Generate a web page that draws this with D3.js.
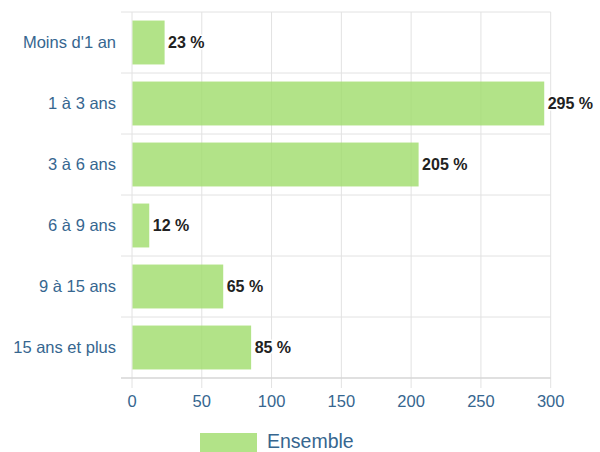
<!DOCTYPE html>
<html>
<head>
<meta charset="utf-8">
<script src="https://cdn.jsdelivr.net/npm/d3@7"></script>
<style>
  body { margin: 0; background: #fff; }
  svg { display: block; font-family: Arial, "Liberation Sans", sans-serif; }
</style>
</head>
<body>
<svg id="chart" width="600" height="452"></svg>
<script>
// data
const categories = ["Moins d'1 an", '1 à 3 ans', '3 à 6 ans', '6 à 9 ans', '9 à 15 ans', '15 ans et plus']
const values = [23, 295, 205, 12, 65, 85]
const xTicks = [0, 50, 100, 150, 200, 250, 300]
const seriesName = 'Ensemble'

const svg = d3.select('#chart'),
  margin = { top: 12, left: 132, right: 50, bottom: 74 },
  width = 600 - margin.left - margin.right,
  height = 452 - margin.top - margin.bottom,
  g = svg.append('g').attr('transform', 'translate(' + margin.left + ',' + margin.top + ')')

const gridColor = '#e2e2e2'
const labelColor = '#36668f'

const x = d3.scaleLinear().domain([0, 300]).range([0, width + 0.7])
const y = d3.scaleBand().domain(categories).range([0, height]).paddingInner(0.28).paddingOuter(0.14)

// vertical grid + bottom ticks
g.append('g')
  .selectAll('line')
  .data(xTicks)
  .enter().append('line')
  .attr('x1', (d) => x(d)).attr('x2', (d) => x(d))
  .attr('y1', 0).attr('y2', height + 10)
  .attr('stroke', gridColor).attr('stroke-width', 1)

// category boundaries (grid + ticks to the left)
const step = y.step()
g.append('g')
  .selectAll('line')
  .data(d3.range(categories.length + 1))
  .enter().append('line')
  .attr('x1', -11).attr('x2', x(300))
  .attr('y1', (i) => i * step).attr('y2', (i) => i * step)
  .attr('stroke', (i) => i === categories.length ? '#d6d6d6' : gridColor)
  .attr('stroke-width', (i) => i === categories.length ? 1.5 : 1)

// bars
g.append('g')
  .selectAll('rect')
  .data(values)
  .enter().append('rect')
  .attr('x', x(0) + 0.5)
  .attr('y', (d, i) => y(categories[i]))
  .attr('width', (d) => x(d) - x(0))
  .attr('height', y.bandwidth())
  .attr('fill', '#9fdc6a')
  .attr('fill-opacity', 0.8)

// value labels with white halo
const lbl = g.append('g')
  .selectAll('text')
  .data(values)
  .enter().append('text')
  .attr('x', (d) => x(d) + 4)
  .attr('y', (d, i) => y(categories[i]) + y.bandwidth() / 2)
  .attr('dy', '0.35em')
  .attr('font-size', 16)
  .attr('font-weight', 'bold')
  .attr('fill', '#222')
  .attr('stroke', '#fff')
  .attr('stroke-width', 3)
  .attr('stroke-linejoin', 'round')
  .attr('paint-order', 'stroke')
  .text((d) => d + ' %')

// category labels
g.append('g')
  .selectAll('text')
  .data(categories)
  .enter().append('text')
  .attr('x', -16)
  .attr('y', (d) => y(d) + y.bandwidth() / 2)
  .attr('dy', '0.35em')
  .attr('text-anchor', 'end')
  .attr('font-size', 16.5)
  .attr('fill', labelColor)
  .text((d) => d)

// x tick labels
g.append('g')
  .selectAll('text')
  .data(xTicks)
  .enter().append('text')
  .attr('x', (d) => x(d))
  .attr('y', height + 29)
  .attr('text-anchor', 'middle')
  .attr('font-size', 16.5)
  .attr('fill', labelColor)
  .text((d) => d)

// legend
const legend = svg.append('g').attr('transform', 'translate(200,433)')
legend.append('rect')
  .attr('width', 57).attr('height', 20)
  .attr('fill', '#9fdc6a').attr('fill-opacity', 0.8)
legend.append('text')
  .attr('x', 67).attr('y', 15)
  .attr('font-size', 19.5)
  .attr('fill', labelColor)
  .text(seriesName)
</script>
</body>
</html>
